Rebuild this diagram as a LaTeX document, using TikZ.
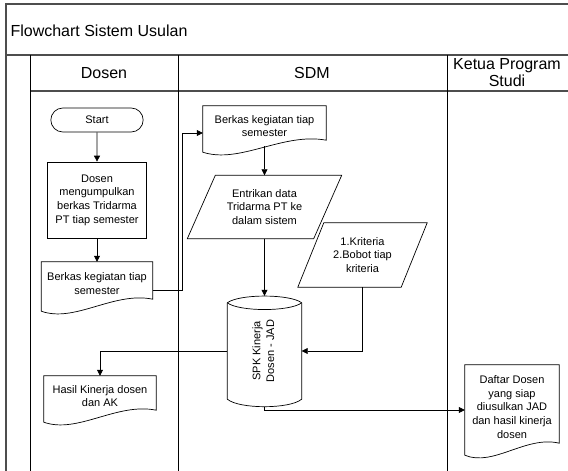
\documentclass[tikz,border=0pt]{standalone}
\usepackage{fontspec}
\setmainfont{Liberation Sans}
\usepackage{graphicx}
\usetikzlibrary{shapes.misc, arrows.meta, calc, positioning}
\definecolor{Frame_Gray}{HTML}{4D4D4D}

\newcommand{\nodefont}{\fontsize{11}{13.6}\selectfont}
\newcommand{\headfont}{\fontsize{16}{17}\selectfont}
% wavy bottom of a document symbol
\newcommand{\docoutline}[1]{%
  \draw[shapeline] (#1.north west) -- (#1.north east) -- ([yshift=6pt]#1.south east)
    .. controls ($(#1.south west)!0.65!(#1.south east)+(0,14pt)$) and ($(#1.south west)!0.3!(#1.south east)+(0,-18pt)$) .. ([yshift=-6pt]#1.south west) -- cycle;}
% input / output parallelogram, #2 = half the slant
\newcommand{\iooutline}[2]{%
  \draw[shapeline] ([xshift=#2]#1.north west) -- ([xshift=#2]#1.north east) -- ([xshift=-#2]#1.south east) -- ([xshift=-#2]#1.south west) -- cycle;}
% stored data drum
\newcommand{\dbcylinder}[1]{%
  \draw[shapeline] (#1.north west) .. controls ($(#1.north west)+(12pt,9pt)$) and ($(#1.north east)+(-12pt,9pt)$) .. (#1.north east)
    -- (#1.south east) .. controls ($(#1.south east)+(-12pt,-10pt)$) and ($(#1.south west)+(12pt,-10pt)$) .. (#1.south west) -- cycle;
  \draw[shapeline] (#1.north west) .. controls ($(#1.north west)+(12pt,-9pt)$) and ($(#1.north east)+(-12pt,-9pt)$) .. (#1.north east);}

\begin{document}
\begin{tikzpicture}[
    x=1pt, y=-1pt,
    shapeline/.style={draw=black, line width=0.7pt},
    frameline/.style={draw=Frame_Gray, line width=1.3pt},
    laneline/.style={draw=black, line width=0.9pt},
    flow/.style={draw=black, line width=0.7pt, -{Triangle[length=6pt, width=6pt]}},
    terminal/.style={rounded rectangle, shapeline, minimum width=99pt, minimum height=24pt, font=\nodefont},
    process/.style={rectangle, shapeline, minimum width=99pt, minimum height=76pt, align=center, inner sep=2pt, font=\nodefont},
    docbox/.style={rectangle, inner sep=2pt, align=center, font=\nodefont},
    iobox/.style={rectangle, inner sep=1pt, align=center, font=\nodefont},
    dbbox/.style={rectangle, minimum width=74pt, minimum height=96pt, inner sep=0pt, font=\nodefont},
    lanehead/.style={font=\headfont, align=center}
]
\useasboundingbox (0,0) rectangle (568,471);
\clip (0,0) rectangle (568,471);

% pool and lanes
\draw[frameline] (6,480) -- (6,4) -- (575,4);
\draw[frameline] (6,55) -- (575,55);
\draw[frameline] (30,91) -- (575,91);
\draw[laneline] (30,55) -- (30,480);
\draw[laneline] (178,55) -- (178,480);
\draw[laneline] (447,55) -- (447,480);

\node[font=\headfont, anchor=west] (judul) at (7,31) {Flowchart Sistem Usulan};
\node[lanehead] (hDosen) at (104,73) {Dosen};
\node[lanehead] (hSDM) at (312,73) {SDM};
\node[lanehead] (hKaprodi) at (507,73) {Ketua Program\\Studi};

% Dosen
\node[terminal] (start) at (97,120) {Start};
\node[process] (kumpul) at (97,200) {Dosen\\mengumpulkan\\berkas Tridarma\\PT tiap semester};
\node[docbox, minimum width=111pt, minimum height=43pt] (berkasDosen) at (97,283.5) {Berkas kegiatan tiap\\semester};
\node[docbox, minimum width=112pt, minimum height=40pt] (hasil) at (100,396) {Hasil Kinerja dosen\\dan AK};

% SDM
\node[docbox, minimum width=123pt, minimum height=40pt] (berkasSDM) at (264.5,126) {Berkas kegiatan tiap\\semester};
\node[iobox, minimum width=126pt, minimum height=63pt] (entri) at (264.5,207) {Entrikan data\\Tridarma PT ke\\dalam sistem};
\node[iobox, minimum width=103pt, minimum height=64pt] (kriteria) at (362.5,255) {1.Kriteria\\2.Bobot tiap\\kriteria};
\node[dbbox] (spk) at (264.5,351) {\rotatebox{90}{\begin{tabular}{@{}c@{}}SPK Kinerja\\Dosen - JAD\end{tabular}}};

% Ketua Program Studi
\node[docbox, minimum width=94pt, minimum height=84pt] (daftar) at (512,407) {Daftar Dosen\\yang siap\\diusulkan JAD\\dan hasil kinerja\\dosen};

\docoutline{berkasDosen}
\docoutline{hasil}
\docoutline{berkasSDM}
\docoutline{daftar}
\iooutline{entri}{14pt}
\iooutline{kriteria}{13pt}
\dbcylinder{spk}

% Alur
\draw[flow] (start) -- (kumpul);
\draw[flow] (kumpul) -- (berkasDosen);
\draw[flow] ([yshift=-7pt]berkasDosen.east) -- ++(30,0) |- ([yshift=-7pt]berkasSDM.west);
\draw[flow] (berkasSDM.south) -- (entri.north);
\draw[flow] (entri.south) -- ([yshift=7pt]spk.north);
\draw[flow] (kriteria.south) |- (spk.east);
\draw[flow] (spk.west) -| (hasil.north);
\draw[flow] ([yshift=-8pt]spk.south) |- ([yshift=-3pt]daftar.west);
\end{tikzpicture}
\end{document}
